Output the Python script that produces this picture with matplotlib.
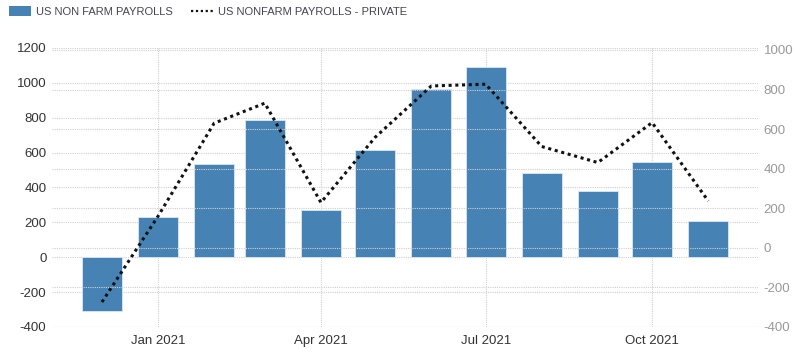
import numpy as np
import matplotlib
matplotlib.use("Agg")
import matplotlib.pyplot as plt
import matplotlib.dates as mdates
from matplotlib.patches import Patch
from matplotlib.lines import Line2D
import datetime as dt

plt.rcParams['font.family'] = ['Liberation Sans', 'DejaVu Sans']
plt.rcParams['axes.unicode_minus'] = False

# monthly data, Dec 2020 - Nov 2021
months = ['2020-12', '2021-01', '2021-02', '2021-03', '2021-04', '2021-05',
          '2021-06', '2021-07', '2021-08', '2021-09', '2021-10', '2021-11']
payrolls = [-306, 233, 536, 785, 269, 614, 962, 1091, 483, 379, 546, 210]
private = [-274, 160, 630, 731, 229, 559, 818, 827, 512, 431, 633, 237]

left_ticks = [-400, -200, 0, 200, 400, 600, 800, 1000, 1200]
right_ticks = [-400, -200, 0, 200, 400, 600, 800, 1000]
x_ticks = ['2021-01', '2021-04', '2021-07', '2021-10']

bar_color = '#4682b4'
grid_color = '#d0d0d0'

dates = [dt.datetime.strptime(m, '%Y-%m') for m in months]
xt = [dt.datetime.strptime(m, '%Y-%m') for m in x_ticks]

fig = plt.figure(figsize=(8, 3.58), dpi=100)
ax = fig.add_axes([0.065, 0.0866, 0.8825, 0.7794])
ax2 = ax.twinx()

ax.bar(dates, payrolls, width=22, color=bar_color, edgecolor='#dbe8f3',
       linewidth=0.6, zorder=3)
ax2.plot(dates, private, color='#111111', linestyle=(0, (1, 1.2)),
         linewidth=2.2, zorder=4)

ax.set_ylim(-400, 1200)
ax.set_yticks(left_ticks)
ax2.set_ylim(-395, 1010)
ax2.set_yticks(right_ticks)

x0 = dt.datetime(2021, 1, 1) - dt.timedelta(days=58.6)
x1 = dt.datetime(2021, 1, 1) + dt.timedelta(days=331.5)
ax.set_xlim(x0, x1)
ax.set_xticks(xt)
ax.xaxis.set_major_formatter(mdates.DateFormatter('%b %Y'))

for a in (ax, ax2):
    for s in a.spines.values():
        s.set_visible(False)
    a.tick_params(length=0)

ax.grid(True, axis='both', color=grid_color, linestyle=(0, (1, 1)),
        linewidth=0.8, zorder=0)
ax2.grid(True, axis='y', color=grid_color, linestyle=(0, (1, 1)),
         linewidth=0.8, zorder=0)
ax.set_axisbelow(True)
ax2.set_zorder(ax.get_zorder() + 1)
ax2.patch.set_visible(False)

ax.tick_params(axis='y', labelsize=9.5, labelcolor='#333333', pad=4)
ax.tick_params(axis='x', labelsize=9.5, labelcolor='#333333', pad=6)
ax2.tick_params(axis='y', labelsize=9.5, labelcolor='#999999', pad=4)

handles = [Patch(facecolor=bar_color, edgecolor='none'),
           Line2D([0], [0], color='#111111', linestyle=(0, (1, 1.2)),
                  linewidth=1.6)]
labels = ['US NON FARM PAYROLLS', 'US NONFARM PAYROLLS - PRIVATE']
fig.legend(handles, labels, loc='upper left', bbox_to_anchor=(-0.001, 1.01),
           ncol=2, frameon=False, fontsize=8, handlelength=2.0,
           handleheight=0.9, handletextpad=0.45, columnspacing=1.6,
           labelcolor='#444455')

fig.savefig('out.png', dpi=100)
